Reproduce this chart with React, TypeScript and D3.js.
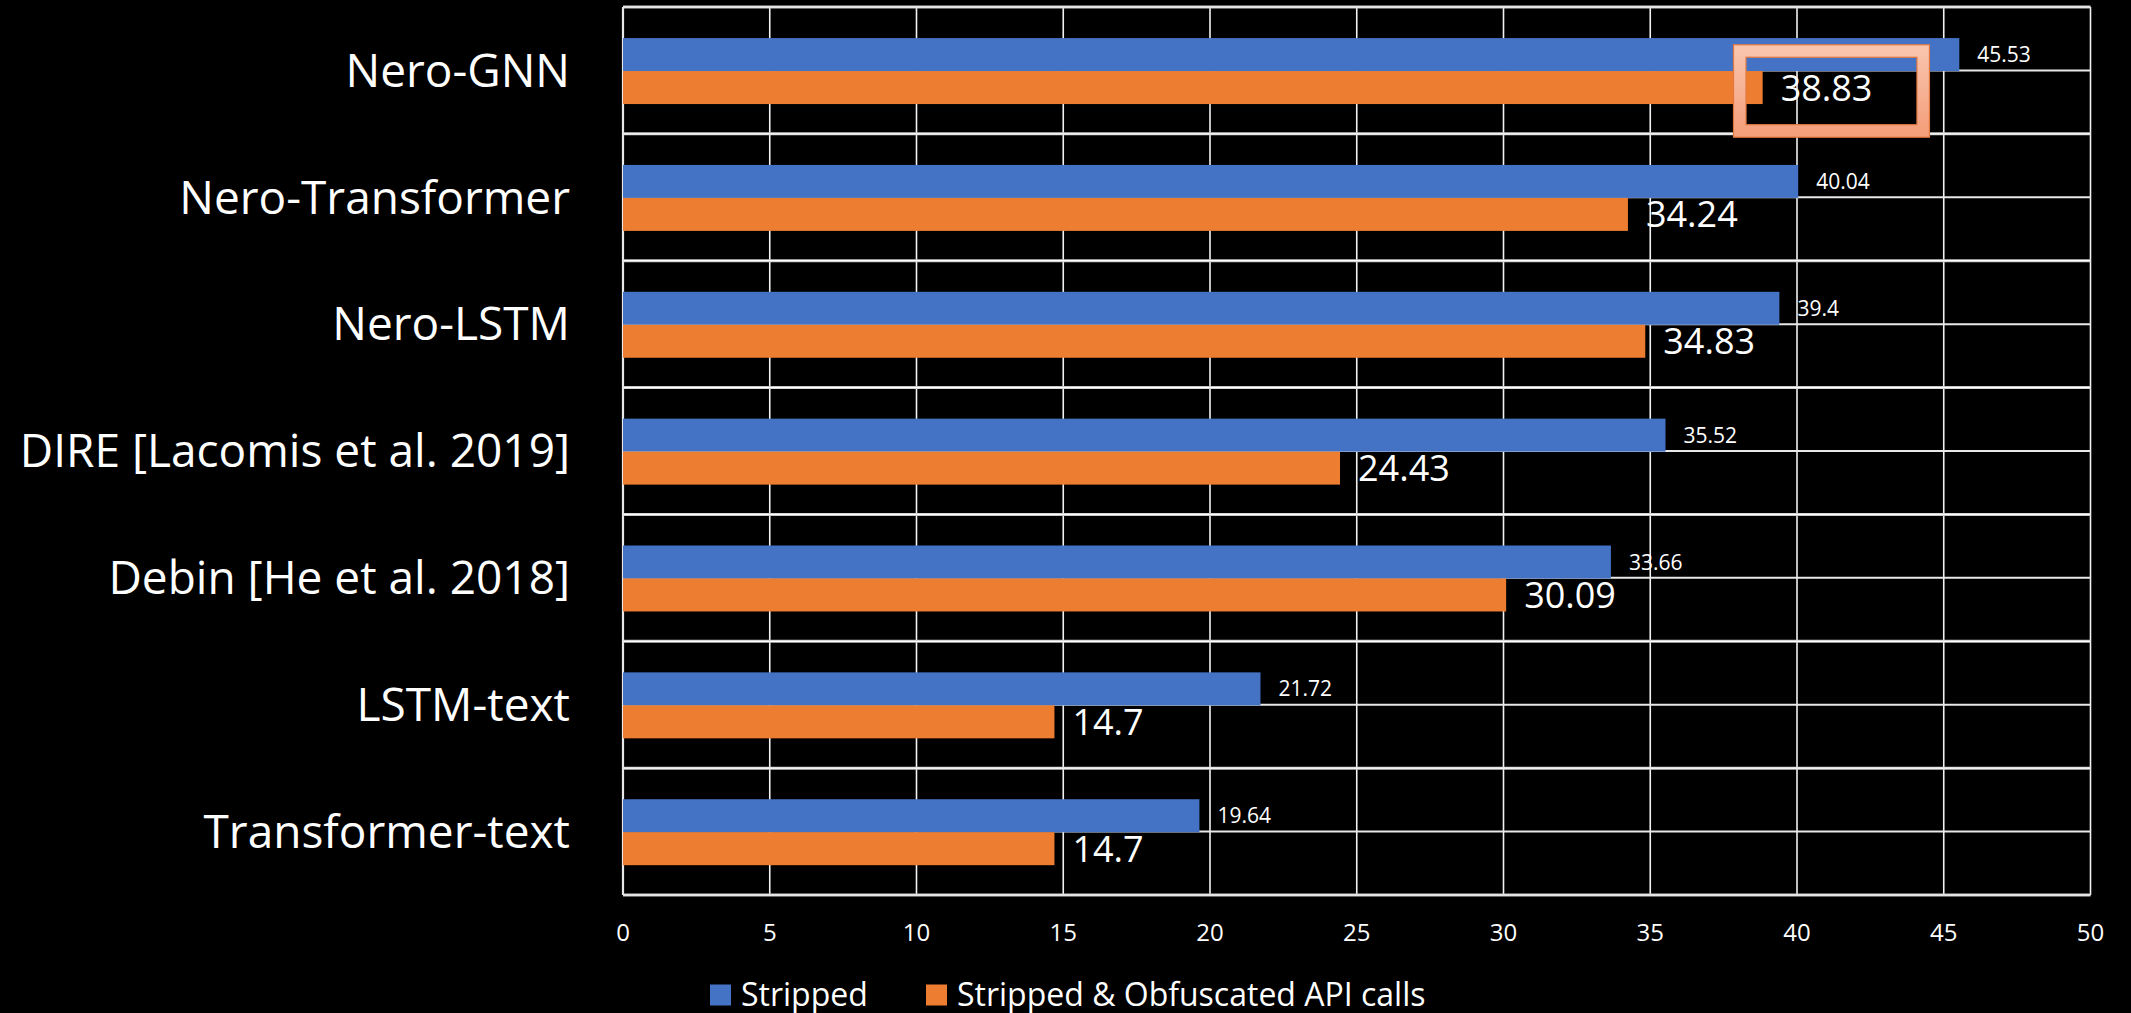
import React from "react";
import * as d3 from "d3";

// Model names, top to bottom
const categories: string[] = [
  "Nero-GNN",
  "Nero-Transformer",
  "Nero-LSTM",
  "DIRE [Lacomis et al. 2019]",
  "Debin [He et al. 2018]",
  "LSTM-text",
  "Transformer-text",
];

// Scores per setting
const strippedValues: number[] = [45.53, 40.04, 39.4, 35.52, 33.66, 21.72, 19.64];
const obfuscatedValues: number[] = [38.83, 34.24, 34.83, 24.43, 30.09, 14.7, 14.7];

const seriesNames: string[] = ["Stripped", "Stripped & Obfuscated API calls"];
const seriesColors: string[] = ["#4472C4", "#ED7D31"];

const xTicks: number[] = [0, 5, 10, 15, 20, 25, 30, 35, 40, 45, 50];

// Emphasis frame drawn around one value label: category and value span it covers
const highlightCategory = "Nero-GNN";
const highlightSpan: [number, number] = [38.05, 44.3];

const W = 2131;
const H = 1013;
const FONT = "'Open Sans', 'Noto Sans', sans-serif";

export default function App() {
  const plotLeft = 623;
  const plotRight = 2090.5;
  const plotTop = 7;
  const plotBottom = 895;

  const x = d3.scaleLinear().domain([0, 50]).range([plotLeft, plotRight]);
  const y = d3.scaleBand<string>().domain(categories).range([plotTop, plotBottom]).padding(0);
  const bw = y.bandwidth();
  const sub = d3
    .scaleBand<string>()
    .domain(seriesNames)
    .range([bw * 0.245, bw * 0.765])
    .padding(0);
  const barH = sub.bandwidth();

  const series = [strippedValues, obfuscatedValues];
  const labelSizes = [21, 36];

  const hy = y(highlightCategory)!;
  const hx0 = x(highlightSpan[0]);
  const hx1 = x(highlightSpan[1]);
  const hTop = hy + bw * 0.347;
  const hBot = hy + bw * 0.977;
  const hsw = 12.5;

  const legendY = 995;
  const legendItems = [
    { name: seriesNames[0], color: seriesColors[0], x: 710 },
    { name: seriesNames[1], color: seriesColors[1], x: 926 },
  ];

  const catSize = 46;

  return (
    <svg
      width={W}
      height={H}
      style={{ position: "absolute", left: 0, top: 0, background: "#000", display: "block" }}
      fontFamily={FONT}
    >
      <defs>
        <linearGradient id="hlGrad" x1="0" y1="0" x2="0" y2="1">
          <stop offset="0" stopColor="#F9C3AC" />
          <stop offset="1" stopColor="#F4A07C" />
        </linearGradient>
      </defs>
      <rect x={0} y={0} width={W} height={H} fill="#000" />

      {/* vertical value gridlines */}
      {xTicks.map((t) => (
        <line
          key={"vg" + t}
          x1={x(t)}
          x2={x(t)}
          y1={plotTop}
          y2={plotBottom}
          stroke={t === 0 ? "#e8e8e8" : "#f2f2f2"}
          strokeWidth={t === 0 ? 2.2 : 1.6}
        />
      ))}

      {/* gridlines through the middle of each category */}
      {categories.map((c) => (
        <line
          key={"mid" + c}
          x1={plotLeft}
          x2={plotRight}
          y1={y(c)! + bw / 2}
          y2={y(c)! + bw / 2}
          stroke="#e8e8e8"
          strokeWidth={2}
        />
      ))}

      {/* category boundaries */}
      {[...categories.map((c) => y(c)!), plotBottom].map((yy, i) => (
        <g key={"hb" + i}>
          <line x1={plotLeft} x2={plotRight} y1={yy} y2={yy} stroke="#c8c8c8" strokeWidth={3} />
          <line x1={plotLeft} x2={plotRight} y1={yy} y2={yy} stroke="#ffffff" strokeWidth={1.2} />
        </g>
      ))}

      {/* bars */}
      {categories.map((c, i) =>
        series.map((vals, s) => (
          <rect
            key={"bar" + c + s}
            x={x(0)}
            y={y(c)! + sub(seriesNames[s])!}
            width={x(vals[i]) - x(0)}
            height={barH}
            fill={seriesColors[s]}
          />
        ))
      )}

      {/* value labels */}
      {categories.map((c, i) =>
        series.map((vals, s) => {
          const cy = y(c)! + sub(seriesNames[s])! + barH / 2;
          const fs = labelSizes[s];
          return (
            <text
              key={"lbl" + c + s}
              x={x(vals[i]) + 18}
              y={cy + fs * 0.36}
              fontSize={fs}
              fill="#fff"
            >
              {String(vals[i])}
            </text>
          );
        })
      )}

      {/* category labels */}
      {categories.map((c) => (
        <text
          key={"cat" + c}
          x={570}
          y={y(c)! + bw / 2 + catSize * 0.355}
          fontSize={catSize}
          fill="#fff"
          textAnchor="end"
        >
          {c}
        </text>
      ))}

      {/* x tick labels */}
      {xTicks.map((t) => (
        <text key={"tk" + t} x={x(t)} y={941} fontSize={24} fill="#fff" textAnchor="middle">
          {t}
        </text>
      ))}

      {/* emphasis frame */}
      <rect
        x={hx0}
        y={hTop}
        width={hx1 - hx0}
        height={hBot - hTop}
        fill="none"
        stroke="url(#hlGrad)"
        strokeWidth={hsw}
      />
      <rect
        x={hx0 - hsw / 2}
        y={hTop - hsw / 2}
        width={hx1 - hx0 + hsw}
        height={hBot - hTop + hsw}
        fill="none"
        stroke="#E27840"
        strokeWidth={1.2}
      />
      <rect
        x={hx0 + hsw / 2}
        y={hTop + hsw / 2}
        width={hx1 - hx0 - hsw}
        height={hBot - hTop - hsw}
        fill="none"
        stroke="#E27840"
        strokeWidth={1.2}
      />

      {/* legend */}
      {legendItems.map((it) => (
        <g key={"lg" + it.name}>
          <rect x={it.x} y={legendY - 10.5} width={21} height={21} fill={it.color} />
          <text x={it.x + 31} y={legendY + 10.5} fontSize={32} fill="#fff">
            {it.name}
          </text>
        </g>
      ))}
    </svg>
  );
}
